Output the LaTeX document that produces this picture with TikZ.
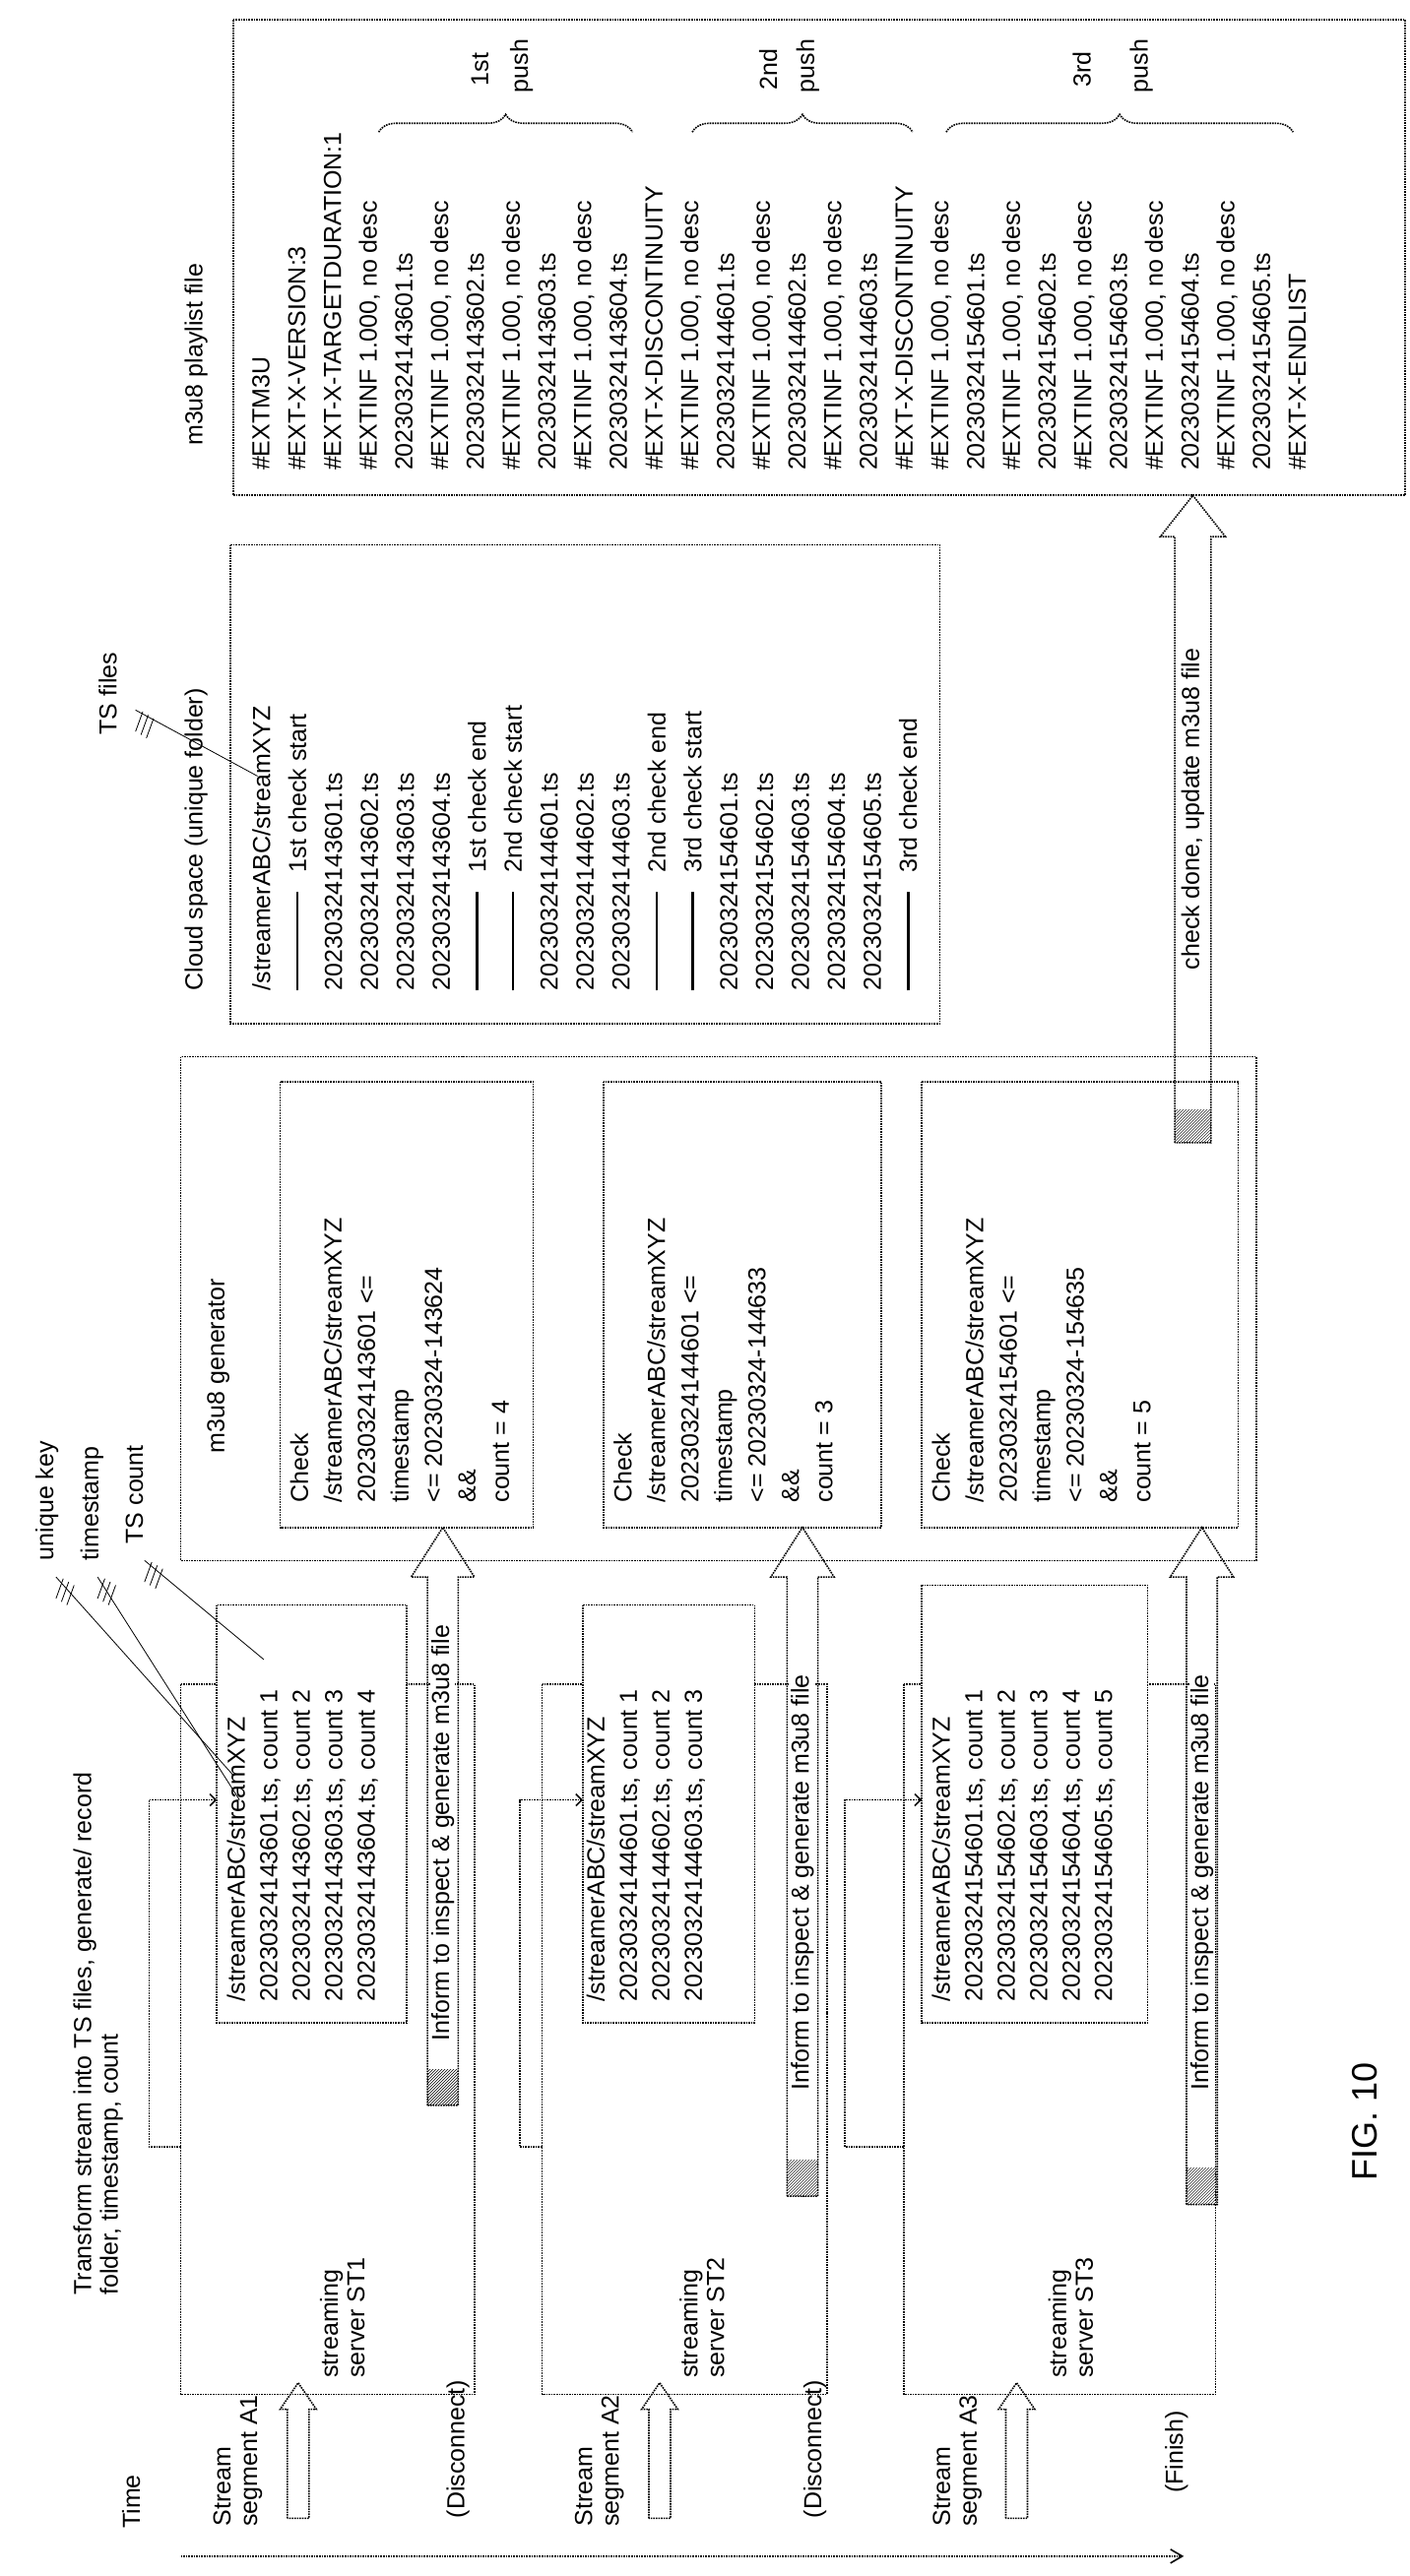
\documentclass[tikz,border=0pt]{standalone}
\usepackage{fontspec}
\setmainfont{Liberation Sans}
\usetikzlibrary{patterns,decorations.pathreplacing,arrows.meta}
\newcommand\fs{\fontsize{25}{36.5}\selectfont}
\newcommand\fsb{\fontsize{25}{34}\selectfont}
\newcommand\fsc{\fontsize{25}{33}\selectfont}
\newcommand\fst{\fontsize{25}{27}\selectfont}
% block arrow pointing to smaller zy: xc, ytail, ytip, bodyhalf, headhalf, headlen
\newcommand\BArrow[6]{%
  \draw[dot] ({#1-#4},#2) -- ({#1-#4},{#3+#6}) -- ({#1-#5},{#3+#6}) -- (#1,#3)
    -- ({#1+#5},{#3+#6}) -- ({#1+#4},{#3+#6}) -- ({#1+#4},#2) -- cycle;}
\newcommand\Hatch[4]{\fill[pattern=north east lines] ({#1-#3},#2) rectangle ({#1+#3},{#2-#4});}
\newcommand\Ticks[2]{\draw[line width=0.8pt] ({#1-4},{#2+6}) -- ({#1+4},{#2-6}) ({#1+2},{#2+8}) -- ({#1+10},{#2-4}) ({#1+8},{#2+10}) -- ({#1+16},{#2-2});}
\begin{document}
\begin{tikzpicture}[x=0.918pt,y=-1.678pt,
  dot/.style={densely dotted,line width=1.6pt},
  txt/.style={rotate=90,anchor=north west,inner sep=0pt,align=left,font=\fs},
  txtb/.style={txt,font=\fsb},
  txtc/.style={txt,font=\fsc},
  txtt/.style={txt,font=\fst},
  ann/.style={line width=0.8pt}]
\useasboundingbox (0,0) rectangle (1560,1560);

% time
\node[rotate=90,font=\fs] (time) at (145,1515) {Time};
\coordinate (t0) at (200,1548); \coordinate (t1) at (1310,1548);
\draw[dot,-{Straight Barb[length=12pt,width=14pt]}] (t0) -- (t1);

% ---- row A1
\node[txtt] (segA1) at (236,1530) {Stream\\segment A1};
\BArrow{330}{1525}{1443}{12}{20}{16}
\node[txt] (disc1) at (494,1525) {(Disconnect)};
\draw[dot] (200,1020) rectangle (525,1450);
\node[txtt] (st1) at (354,1440) {streaming\\server ST1};
\draw[dot,fill=white] (240,972) rectangle (450,1225);
\node[txtc] (ts1) at (251,1212) {/streamerABC/streamXYZ\\20230324143601.ts, count 1\\20230324143602.ts, count 2\\20230324143603.ts, count 3\\20230324143604.ts, count 4};
\node[txtt] (tr) at (81,1390) {Transform stream into TS files, generate/ record\\folder, timestamp, count};
\draw[dot,-{Straight Barb[length=6pt]}] (200,1300) -- (165,1300) -- (165,1090) -- (240,1090);
\Hatch{490}{1275}{17}{22}
\BArrow{490}{1275}{925}{17}{35}{30}
\node[rotate=90,font=\fs,fill=white,inner sep=1pt] (inf1) at (490,1110) {Inform to inspect \& generate m3u8 file};

% annotations
\node[txt] (uk) at (39,945) {unique key};
\node[txt] (tsp) at (89,945) {timestamp};
\node[txt] (tsc) at (139,935) {TS count};
\coordinate (uk1) at (258,1075); \coordinate (tsp1) at (265,1090); \coordinate (tsc1) at (292,1005);
\draw[ann] (62,955) -- (uk1); \draw[ann] (108,955) -- (tsp1); \draw[ann] (160,945) -- (tsc1);
\Ticks{66}{962} \Ticks{112}{962} \Ticks{164}{952}

% ---- row A2
\node[txtt] (segA2) at (636,1530) {Stream\\segment A2};
\BArrow{730}{1525}{1443}{12}{20}{16}
\node[txt] (disc2) at (889,1525) {(Disconnect)};
\draw[dot] (600,1020) rectangle (915,1450);
\node[txtt] (st2) at (752,1440) {streaming\\server ST2};
\draw[dot,fill=white] (645,972) rectangle (835,1225);
\node[txtc] (ts2) at (649,1212) {/streamerABC/streamXYZ\\20230324144601.ts, count 1\\20230324144602.ts, count 2\\20230324144603.ts, count 3};
\draw[dot,-{Straight Barb[length=6pt]}] (600,1300) -- (575,1300) -- (575,1090) -- (645,1090);
\Hatch{888}{1330}{17}{22}
\BArrow{888}{1330}{925}{17}{35}{30}
\node[rotate=90,font=\fs,fill=white,inner sep=1pt] (inf2) at (888,1140) {Inform to inspect \& generate m3u8 file};

% ---- row A3
\node[txtt] (segA3) at (1032,1530) {Stream\\segment A3};
\BArrow{1125}{1525}{1443}{12}{20}{16}
\node[txt] (fin) at (1289,1510) {(Finish)};
\draw[dot] (1000,1020) rectangle (1345,1450);
\node[txtt] (st3) at (1160,1440) {streaming\\server ST3};
\draw[dot,fill=white] (1020,960) rectangle (1270,1225);
\node[txtc] (ts3) at (1031,1212) {/streamerABC/streamXYZ\\20230324154601.ts, count 1\\20230324154602.ts, count 2\\20230324154603.ts, count 3\\20230324154604.ts, count 4\\20230324154605.ts, count 5};
\draw[dot,-{Straight Barb[length=6pt]}] (1000,1300) -- (935,1300) -- (935,1090) -- (1020,1090);
\Hatch{1330}{1335}{17}{22}
\BArrow{1330}{1335}{925}{17}{35}{30}
\node[rotate=90,font=\fs,fill=white,inner sep=1pt] (inf3) at (1330,1140) {Inform to inspect \& generate m3u8 file};

% ---- generator
\draw[dot] (200,640) rectangle (1390,945);
\node[txt] (gen) at (229,880) {m3u8 generator};
\draw[dot] (310,655) rectangle (590,925);
\node[txtb] (c1) at (321,910) {Check\\/streamerABC/streamXYZ\\20230324143601 <=\\timestamp\\<= 20230324-143624\\\&\&\\count = 4};
\draw[dot] (668,655) rectangle (975,925);
\node[txtb] (c2) at (679,910) {Check\\/streamerABC/streamXYZ\\20230324144601 <=\\timestamp\\<= 20230324-144633\\\&\&\\count = 3};
\draw[dot] (1020,655) rectangle (1370,925);
\node[txtb] (c3) at (1031,910) {Check\\/streamerABC/streamXYZ\\20230324154601 <=\\timestamp\\<= 20230324-154635\\\&\&\\count = 5};

% check done arrow
\Hatch{1320}{692}{20}{20}
\BArrow{1320}{692}{300}{20}{36}{25}
\node[rotate=90,font=\fs,fill=white,inner sep=1pt] (cd) at (1320,490) {check done, update m3u8 file};

% ---- cloud space
\node[txt] (tsf) at (109,445) {TS files};
\node[txt] (cl) at (204,600) {Cloud space (unique folder)};
\draw[dot] (255,330) rectangle (1040,620);
\coordinate (tsf1) at (285,470);
\draw[ann] (150,430) -- (tsf1);
\Ticks{154}{437}
\newcommand\RL{\rule[0.3em]{100pt}{2.5pt}\hspace{20pt}}
\node[txt] (cloud) at (279,600) {/streamerABC/streamXYZ\\
\RL 1st check start\\20230324143601.ts\\20230324143602.ts\\20230324143603.ts\\20230324143604.ts\\
\RL 1st check end\\\RL 2nd check start\\20230324144601.ts\\20230324144602.ts\\20230324144603.ts\\
\RL 2nd check end\\\RL 3rd check start\\20230324154601.ts\\20230324154602.ts\\20230324154603.ts\\20230324154604.ts\\20230324154605.ts\\\RL 3rd check end};

% ---- playlist
\node[txt] (plt) at (204,270) {m3u8 playlist file};
\draw[dot] (258,12) rectangle (1555,300);
\node[txt,font=\fontsize{25}{36.3}\selectfont] (pl) at (279,285) {\#EXTM3U\\\#EXT-X-VERSION:3\\\#EXT-X-TARGETDURATION:1\\
\#EXTINF 1.000, no desc\\20230324143601.ts\\\#EXTINF 1.000, no desc\\20230324143602.ts\\\#EXTINF 1.000, no desc\\20230324143603.ts\\\#EXTINF 1.000, no desc\\20230324143604.ts\\
\#EXT-X-DISCONTINUITY\\\#EXTINF 1.000, no desc\\20230324144601.ts\\\#EXTINF 1.000, no desc\\20230324144602.ts\\\#EXTINF 1.000, no desc\\20230324144603.ts\\
\#EXT-X-DISCONTINUITY\\\#EXTINF 1.000, no desc\\20230324154601.ts\\\#EXTINF 1.000, no desc\\20230324154602.ts\\\#EXTINF 1.000, no desc\\20230324154603.ts\\\#EXTINF 1.000, no desc\\20230324154604.ts\\\#EXTINF 1.000, no desc\\20230324154605.ts\\\#EXT-X-ENDLIST};
\draw[dot,decorate,decoration={brace,amplitude=18pt}] (419,80) -- (700,80);
\draw[dot,decorate,decoration={brace,amplitude=18pt}] (766,80) -- (1010,80);
\draw[dot,decorate,decoration={brace,amplitude=18pt}] (1047,80) -- (1431,80);
\node[rotate=90,font=\fs] (p1a) at (531,42) {1st};
\node[rotate=90,font=\fs] (p1b) at (577,40) {push};
\node[rotate=90,font=\fs] (p2a) at (850,42) {2nd};
\node[rotate=90,font=\fs] (p2b) at (894,40) {push};
\node[rotate=90,font=\fs] (p3a) at (1197,42) {3rd};
\node[rotate=90,font=\fs] (p3b) at (1263,40) {push};

\node[rotate=90,font=\fontsize{36}{40}\selectfont] (fig) at (1510,1285) {FIG. 10};
\end{tikzpicture}
\end{document}
